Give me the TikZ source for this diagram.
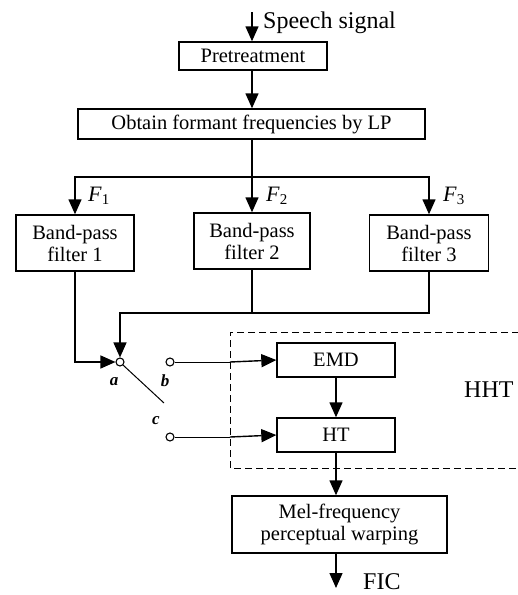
\documentclass[tikz,border=0pt]{standalone}
\usepackage{fontspec}
\setmainfont{Liberation Serif}
\usetikzlibrary{arrows.meta}
\newcommand{\fsub}[2]{\textit{#1}\raisebox{-0.35ex}{\fontsize{15}{15}\selectfont #2}}
\begin{document}
\begin{tikzpicture}[x=1pt,y=-1pt,
  box/.style={draw,line width=1.4pt,inner sep=0pt,align=center,font=\fontsize{20.5}{22}\selectfont},
  arr/.style={line width=1.4pt,-{Triangle[length=15pt,width=13pt]}},
  ln/.style={line width=1.4pt},
  term/.style={circle,draw,line width=1.1pt,fill=white,inner sep=0pt,minimum size=8pt},
  lab/.style={font=\fontsize{17}{18}\selectfont\bfseries\itshape,inner sep=0pt},
  big/.style={font=\fontsize{24}{26}\selectfont,inner sep=0pt},
  flab/.style={font=\fontsize{22}{24}\selectfont,inner sep=0pt}]
\useasboundingbox (0,0) rectangle (518,595);
% dashed HHT region
\draw[line width=1pt,dash pattern=on 7pt off 4pt] (530,332) -- (230,332) -- (230,468) -- (530,468);
\coordinate (dl) at (230,400);
\node[big,anchor=west] (hht) at (464,390) {HHT};
% nodes
\coordinate (sp) at (252,12);
\node[big,anchor=west] (sptext) at (263,23) {Speech signal};
\node[box,minimum width=148pt,minimum height=28pt] (pre) at (253,56) {Pretreatment};
\node[box,minimum width=347pt,minimum height=30pt] (lp) at (251.5,124) {Obtain formant frequencies by LP};
\coordinate (split) at (252,177);
\node[box,minimum width=118pt,minimum height=56pt] (f1) at (75,243) {Band-pass\\filter 1};
\node[box,minimum width=116pt,minimum height=56pt] (f2) at (252,241) {Band-pass\\filter 2};
\node[box,minimum width=119pt,minimum height=56pt] (f3) at (429,243) {Band-pass\\filter 3};
\node[flab,anchor=west] (F1) at (88,196) {\fsub{F}{1}};
\node[flab,anchor=west] (F2) at (266,196) {\fsub{F}{2}};
\node[flab,anchor=west] (F3) at (443,196) {\fsub{F}{3}};
\node[term] (a) at (120,362) {};
\node[term] (b) at (170,362) {};
\node[term] (c) at (170,437) {};
\coordinate (jn) at (120,313);
\coordinate (blade) at (164,403);
\node[lab] (la) at (114,382) {a};
\node[lab] (lb) at (165,381) {b};
\node[lab] (lc) at (156,421) {c};
\node[box,minimum width=118pt,minimum height=34pt] (emd) at (336,360) {EMD};
\node[box,minimum width=118pt,minimum height=34pt] (ht) at (336,435) {HT};
\node[box,minimum width=215pt,minimum height=57pt] (mel) at (339.5,524.5) {Mel-frequency\\perceptual warping};
\coordinate (out) at (mel.south |- 0,588);
\node[big,anchor=west] (fic) at (363,582) {FIC};
% connectors
\draw[arr] (sp) -- (pre.north -| sp);
\draw[arr] (pre.south -| sp) -- (lp.north -| sp);
\draw[ln] (lp.south -| split) -- (split);
\draw[arr] (split) -| (f1.north);
\draw[arr] (split) -- (f2.north -| split);
\draw[arr] (split) -| (f3.north);
\draw[arr] (f1.south) |- (a.west);
\draw[ln] (f2.south) -- (f2.south |- jn);
\draw[arr] (f3.south) |- (jn) -- (a.north);
\draw[line width=1pt] (a.-45) -- (blade);
\draw[line width=1pt] (b.east) -- (b.east -| dl);
\draw[arr] (b.east -| dl) -- (emd.west);
\draw[line width=1pt] (c.east) -- (c.east -| dl);
\draw[arr] (c.east -| dl) -- (ht.west);
\draw[arr] (emd.south) -- (ht.north);
\draw[arr] (ht.south) -- (mel.north -| ht.south);
\draw[arr] (mel.south -| ht.south) -- (out -| ht.south);
\end{tikzpicture}
\end{document}
